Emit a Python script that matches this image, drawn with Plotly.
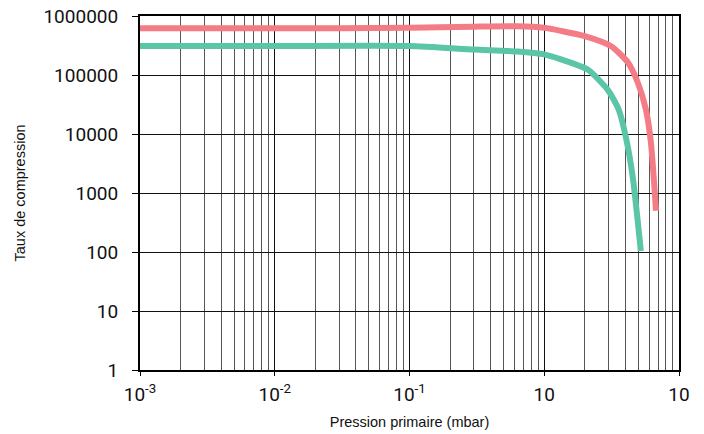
import plotly.graph_objects as go

# Pression primaire (mbar) and compression ratios
red_pressure = [0.001, 0.01, 0.1, 0.3, 0.63, 1.0, 1.33, 1.97, 3.12, 4.17, 4.95, 5.68, 6.19, 6.75]
red_ratio = [6.2e5, 6.2e5, 6.3e5, 6.6e5, 6.7e5, 6.3e5, 5.6e5, 4.6e5, 3.1e5, 1.64e5, 7.4e4, 2.6e4, 7.1e3, 500]

green_pressure = [0.001, 0.01, 0.1, 0.3, 0.63, 1.0, 1.33, 2.1, 2.96, 3.57, 4.03, 4.54, 5.21]
green_ratio = [3.1e5, 3.1e5, 3.1e5, 2.7e5, 2.5e5, 2.24e5, 1.84e5, 1.24e5, 5.6e4, 2.6e4, 8.9e3, 1.84e3, 104]

x_ticks = [0.001, 0.01, 0.1, 1, 10]
x_ticktext = ["10<sup>-3</sup>", "10<sup>-2</sup>", "10<sup>-1</sup>", "10", "10"]
y_ticks = [1, 10, 100, 1000, 10000, 100000, 1000000]
y_ticktext = ["1", "10", "100", "1000", "10000", "100000", "1000000"]

# minor gridlines at 2..9 of each decade
x_minor = [m * d for d in [0.001, 0.01, 0.1, 1] for m in range(2, 10)]

tick_font = "Roboto, sans-serif"
title_font = "Liberation Sans, Arial, sans-serif"

fig = go.Figure()

fig.add_trace(go.Scatter(
    x=red_pressure, y=red_ratio, mode="lines",
    line=dict(color="#F47C86", width=6, shape="spline", smoothing=0.6),
))
fig.add_trace(go.Scatter(
    x=green_pressure, y=green_ratio, mode="lines",
    line=dict(color="#5BC5A7", width=6, shape="spline", smoothing=0.6),
))

fig.update_layout(
    width=704, height=434,
    margin=dict(l=140, r=25, t=16, b=64),
    paper_bgcolor="white", plot_bgcolor="white",
    showlegend=False,
    font=dict(family=tick_font, color="#111"),
    xaxis=dict(
        type="log", range=[-3, 1], automargin=False,
        tickmode="array", tickvals=x_ticks, ticktext=x_ticktext,
        tickfont=dict(size=19), ticklabeloverflow="allow",
        showgrid=True, gridcolor="#111", gridwidth=1,
        minor=dict(tickvals=x_minor, showgrid=True, gridcolor="#555", gridwidth=1, ticks=""),
        showline=True, linecolor="black", linewidth=2, mirror=True,
        ticks="outside", ticklen=4, tickcolor="black",
        ticklabelstandoff=2,
        title=dict(text="Pression primaire (mbar)", font=dict(size=14.5, family=title_font), standoff=12),
        zeroline=False,
    ),
    yaxis=dict(
        type="log", range=[0, 6], automargin=False,
        tickmode="array", tickvals=y_ticks, ticktext=y_ticktext,
        tickfont=dict(size=19), ticklabeloverflow="allow",
        showgrid=True, gridcolor="#111", gridwidth=1,
        showline=True, linecolor="black", linewidth=2, mirror=True,
        ticks="outside", ticklen=6, tickcolor="black",
        ticklabelstandoff=10,
        title=dict(text="Taux de compression", font=dict(size=14.5, family=title_font), standoff=14),
        zeroline=False,
    ),
)

# drop the default page margin so the figure sits at the window's corner
fig.write_html("out.html", config={"displayModeBar": False},
               post_script="document.body.style.margin='0';")
